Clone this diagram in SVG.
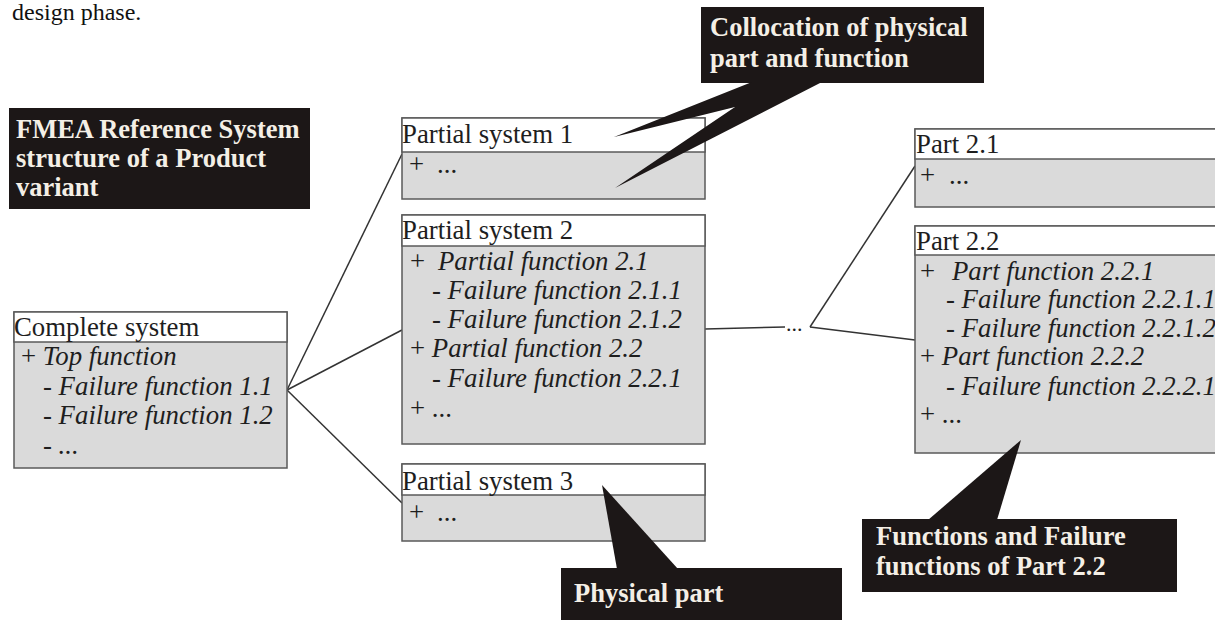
<svg xmlns="http://www.w3.org/2000/svg" width="1215" height="620" viewBox="0 0 1215 620">
<style>
.hdr{fill:#ffffff;stroke:#5a5a5a;stroke-width:1.5}
.body{fill:#dadada;stroke:#5a5a5a;stroke-width:1.5}
.t{font-family:"Liberation Serif","Times New Roman",serif;font-size:26.8px;fill:#1e1e1e}
.i{font-style:italic}
.call{fill:#1c1717}
.ct{font-family:"Liberation Serif","Times New Roman",serif;font-size:26.5px;font-weight:bold;fill:#f4efe6}
.ln{stroke:#333;stroke-width:1.5;fill:none}
</style>
<rect width="1215" height="620" fill="#ffffff"/>
<text class="t" x="12" y="20" style="font-size:24px;fill:#111">design phase.</text>

<g id="connectors">
<line class="ln" x1="287" y1="390" x2="402" y2="154"/>
<line class="ln" x1="287" y1="390" x2="402" y2="330"/>
<line class="ln" x1="287" y1="390" x2="402" y2="503"/>
<line class="ln" x1="705" y1="329" x2="785" y2="327"/>
<line class="ln" x1="810" y1="327" x2="915" y2="166"/>
<line class="ln" x1="810" y1="327" x2="915" y2="340"/>
<text class="t" x="786" y="331" style="font-size:22px">...</text>
</g>

<g id="fmea-title">
<rect class="call" x="9" y="108" width="301" height="101"/>
<text class="ct" x="16" y="138">FMEA Reference System</text>
<text class="ct" x="16" y="167">structure of a Product</text>
<text class="ct" x="16" y="196">variant</text>
</g>

<g id="complete-system">
<rect class="body" x="14" y="312" width="273" height="156"/>
<rect class="hdr" x="14" y="312" width="273" height="30"/>
<text class="t" x="14" y="336">Complete system</text>
<text class="t" x="21" y="365">+ <tspan class="i">Top function</tspan></text>
<text class="t i" x="43" y="395">- Failure function 1.1</text>
<text class="t i" x="43" y="424">- Failure function 1.2</text>
<text class="t i" x="43" y="454">- ...</text>
</g>

<g id="partial-system-1">
<rect class="body" x="402" y="118" width="303" height="81"/>
<rect class="hdr" x="402" y="118" width="303" height="34"/>
<text class="t" x="402" y="143">Partial system 1</text>
<text class="t" x="409" y="173">+</text>
<text class="t" x="437" y="173">...</text>
</g>

<g id="partial-system-2">
<rect class="body" x="402" y="215" width="303" height="229"/>
<rect class="hdr" x="402" y="215" width="303" height="31"/>
<text class="t" x="402" y="239">Partial system 2</text>
<text class="t" x="410" y="270">+</text>
<text class="t i" x="438" y="270">Partial function 2.1</text>
<text class="t i" x="432" y="299">- Failure function 2.1.1</text>
<text class="t i" x="432" y="328">- Failure function 2.1.2</text>
<text class="t" x="410" y="357">+ <tspan class="i">Partial function 2.2</tspan></text>
<text class="t i" x="432" y="387">- Failure function 2.2.1</text>
<text class="t" x="410" y="417">+ ...</text>
</g>

<g id="partial-system-3">
<rect class="body" x="402" y="464" width="303" height="77"/>
<rect class="hdr" x="402" y="464" width="303" height="31"/>
<text class="t" x="402" y="490">Partial system 3</text>
<text class="t" x="409" y="521">+</text>
<text class="t" x="437" y="521">...</text>
</g>

<g id="part-2-1">
<rect class="body" x="915" y="129" width="310" height="78"/>
<rect class="hdr" x="915" y="129" width="310" height="30"/>
<text class="t" x="916" y="153">Part 2.1</text>
<text class="t" x="920" y="184">+</text>
<text class="t" x="949" y="184">...</text>
</g>

<g id="part-2-2">
<rect class="body" x="915" y="226" width="310" height="227"/>
<rect class="hdr" x="915" y="226" width="310" height="29"/>
<text class="t" x="916" y="250">Part 2.2</text>
<text class="t" x="920" y="280">+</text>
<text class="t i" x="952" y="280">Part function 2.2.1</text>
<text class="t i" x="946" y="308">- Failure function 2.2.1.1</text>
<text class="t i" x="946" y="337">- Failure function 2.2.1.2</text>
<text class="t" x="920" y="365">+ <tspan class="i">Part function 2.2.2</tspan></text>
<text class="t i" x="946" y="395">- Failure function 2.2.2.1</text>
<text class="t" x="920" y="423">+ ...</text>
</g>

<g id="callout-collocation">
<rect class="call" x="701" y="7" width="283" height="76"/>
<polygon class="call" points="752,82 614,137 735,107 615,188 822,82"/>
<text class="ct" x="710" y="36">Collocation of physical</text>
<text class="ct" x="710" y="67">part and function</text>
</g>

<g id="callout-physical">
<rect class="call" x="561" y="568" width="281" height="52"/>
<polygon class="call" points="602,485 617,569 678,569"/>
<text class="ct" x="574" y="602">Physical part</text>
</g>

<g id="callout-functions">
<rect class="call" x="862" y="519" width="315" height="73"/>
<polygon class="call" points="1021,440 928,520 997,520"/>
<text class="ct" x="876" y="545">Functions and Failure</text>
<text class="ct" x="876" y="575">functions of Part 2.2</text>
</g>
</svg>
